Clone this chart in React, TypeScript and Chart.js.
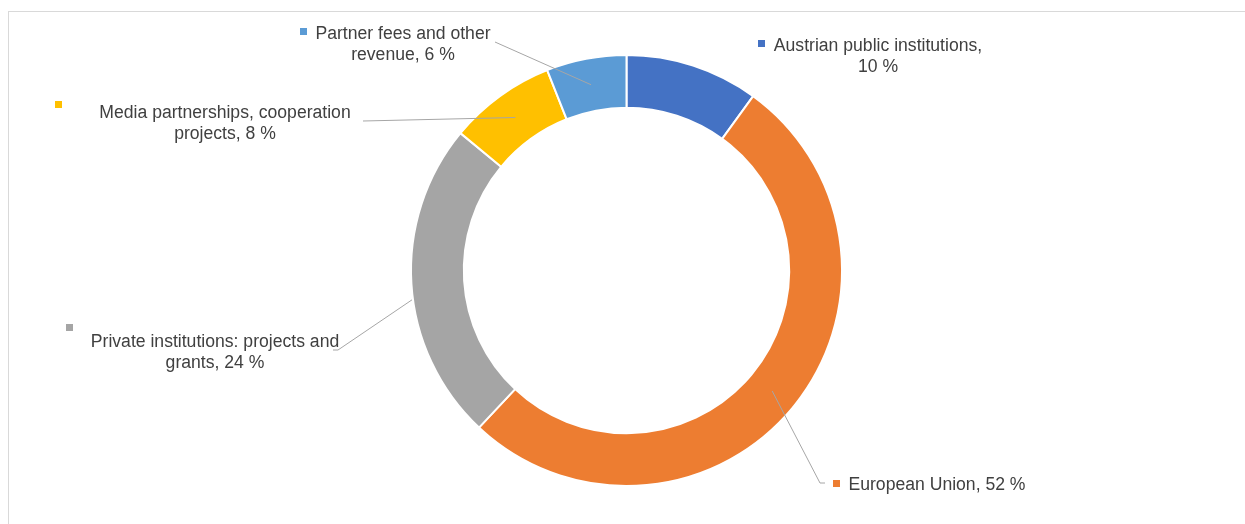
import React, { useEffect, useRef } from "react";
import { Chart, registerables } from "chart.js";

Chart.register(...registerables);

const categories = [
  "Austrian public institutions",
  "European Union",
  "Private institutions: projects and grants",
  "Media partnerships, cooperation projects",
  "Partner fees and other revenue",
];
const values = [10, 52, 24, 8, 6];
const colors = ["#4472C4", "#ED7D31", "#A5A5A5", "#FFC000", "#5B9BD5"];
const labelLines = [
  ["Austrian public institutions,", "10 %"],
  ["European Union, 52 %"],
  ["Private institutions: projects and", "grants, 24 %"],
  ["Media partnerships, cooperation", "projects, 8 %"],
  ["Partner fees and other", "revenue, 6 %"],
];

type LabelLayout = {
  cx: number;
  y: number;
  mx: number;
  my: number;
  leader: number[][] | null;
  clip: boolean;
};

const labelLayouts: LabelLayout[] = [
  { cx: 878, y: 51, mx: 758, my: 40, leader: null, clip: false },
  { cx: 937, y: 490, mx: 833, my: 480, leader: [[825, 483], [820, 483]], clip: false },
  { cx: 215, y: 347, mx: 66, my: 324, leader: [[333, 350], [338, 350]], clip: true },
  { cx: 225, y: 118, mx: 55, my: 101, leader: [[363, 121]], clip: false },
  { cx: 403, y: 39, mx: 300, my: 28, leader: [[495, 42]], clip: false },
];

const FONT = '17.6px "Liberation Sans", Arial, sans-serif';

const labelPlugin = {
  id: "excelLabels",
  afterDatasetsDraw(chart: any) {
    const ctx = chart.ctx;
    const meta = chart.getDatasetMeta(0);
    ctx.save();
    meta.data.forEach((arc: any, i: number) => {
      const p = arc.getProps(["x", "y", "startAngle", "endAngle", "innerRadius", "outerRadius"], true);
      const L = labelLayouts[i];
      const a = (p.startAngle + p.endAngle) / 2;
      const r = (p.innerRadius + p.outerRadius) / 2;
      let ax = p.x + Math.cos(a) * r;
      let ay = p.y + Math.sin(a) * r;
      if (L.leader) {
        const last = L.leader[L.leader.length - 1];
        if (L.clip) {
          // clip the segment (last -> centroid) at the outer edge of the ring
          const dx = ax - last[0];
          const dy = ay - last[1];
          const fx = last[0] - p.x;
          const fy = last[1] - p.y;
          const A = dx * dx + dy * dy;
          const B = 2 * (fx * dx + fy * dy);
          const C = fx * fx + fy * fy - (p.outerRadius + 1) * (p.outerRadius + 1);
          const disc = B * B - 4 * A * C;
          if (disc >= 0) {
            const t = (-B - Math.sqrt(disc)) / (2 * A);
            if (t >= 0 && t <= 1) {
              ax = last[0] + dx * t;
              ay = last[1] + dy * t;
            }
          }
        }
        ctx.beginPath();
        ctx.strokeStyle = "#A6A6A6";
        ctx.lineWidth = 1;
        ctx.moveTo(L.leader[0][0], L.leader[0][1]);
        for (let k = 1; k < L.leader.length; k++) ctx.lineTo(L.leader[k][0], L.leader[k][1]);
        ctx.lineTo(ax, ay);
        ctx.stroke();
      }
      ctx.fillStyle = colors[i];
      ctx.fillRect(L.mx, L.my, 7, 7);
      ctx.fillStyle = "#404040";
      ctx.font = FONT;
      ctx.textAlign = "center";
      ctx.textBaseline = "alphabetic";
      labelLines[i].forEach((line, k) => {
        ctx.fillText(line, L.cx, L.y + k * 20.5);
      });
    });
    ctx.restore();
  },
};

export default function App() {
  const ref = useRef<HTMLCanvasElement>(null);
  useEffect(() => {
    if (!ref.current) return;
    const chart = new Chart(ref.current, {
      type: "doughnut",
      data: {
        labels: categories,
        datasets: [
          {
            data: values,
            backgroundColor: colors,
            borderColor: "#FFFFFF",
            borderWidth: 2,
            hoverOffset: 0,
          },
        ],
      },
      options: {
        responsive: false,
        animation: false,
        cutout: "75.5%",
        layout: { padding: { top: 54, bottom: 37, left: 8, right: 0 } },
        plugins: {
          legend: { display: false },
          tooltip: { enabled: false },
        },
      },
      plugins: [labelPlugin],
    });
    return () => chart.destroy();
  }, []);

  return (
    <div
      style={{
        position: "fixed",
        left: 0,
        top: 0,
        width: 1245,
        height: 524,
        overflow: "hidden",
        background: "#FFFFFF",
      }}
    >
      <div
        style={{
          position: "absolute",
          left: 8,
          top: 11,
          width: 1400,
          height: 700,
          border: "1px solid #D9D9D9",
          boxSizing: "border-box",
        }}
      />
      <canvas
        ref={ref}
        width={1245}
        height={524}
        style={{ position: "absolute", left: 0, top: 0, width: 1245, height: 524 }}
      />
    </div>
  );
}
